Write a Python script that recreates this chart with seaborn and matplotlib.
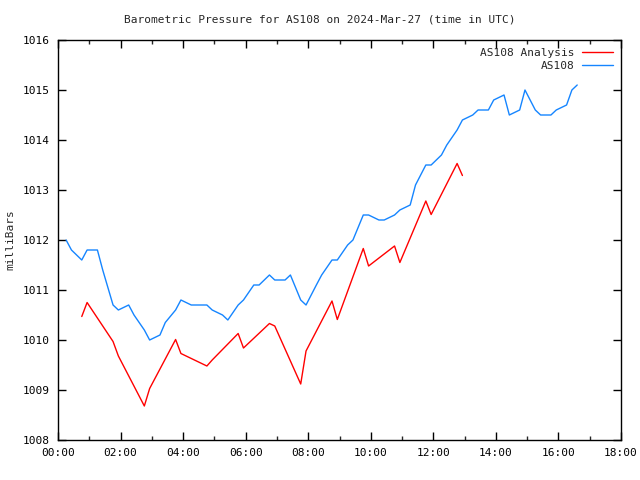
import matplotlib
matplotlib.use("Agg")
import matplotlib.pyplot as plt
from matplotlib.ticker import MultipleLocator, FuncFormatter
import seaborn as sns
import pandas as pd

# Observed station pressure (AS108), time in hours UTC
obs_hours = [0.26, 0.43, 0.76, 0.93, 1.26, 1.43, 1.76, 1.93, 2.26, 2.43, 2.76, 2.93,
             3.26, 3.43, 3.76, 3.93, 4.26, 4.43, 4.76, 4.93, 5.26, 5.43, 5.76, 5.93,
             6.26, 6.43, 6.76, 6.93, 7.26, 7.43, 7.76, 7.93, 8.26, 8.43, 8.76, 8.93,
             9.26, 9.43, 9.76, 9.93, 10.26, 10.43, 10.76, 10.93, 11.26, 11.43, 11.76, 11.93,
             12.26, 12.43, 12.76, 12.93, 13.26, 13.43, 13.76, 13.93, 14.26, 14.43, 14.76, 14.93,
             15.26, 15.43, 15.76, 15.93, 16.26, 16.43, 16.6]
obs_mb = [1012.0, 1011.8, 1011.6, 1011.8, 1011.8, 1011.4, 1010.7, 1010.6, 1010.7, 1010.5, 1010.2, 1010.0,
          1010.1, 1010.35, 1010.6, 1010.8, 1010.7, 1010.7, 1010.7, 1010.6, 1010.5, 1010.4, 1010.7, 1010.8,
          1011.1, 1011.1, 1011.3, 1011.2, 1011.2, 1011.3, 1010.8, 1010.7, 1011.1, 1011.3, 1011.6, 1011.6,
          1011.9, 1012.0, 1012.5, 1012.5, 1012.4, 1012.4, 1012.5, 1012.6, 1012.7, 1013.1, 1013.5, 1013.5,
          1013.7, 1013.9, 1014.2, 1014.4, 1014.5, 1014.6, 1014.6, 1014.8, 1014.9, 1014.5, 1014.6, 1015.0,
          1014.6, 1014.5, 1014.5, 1014.6, 1014.7, 1015.0, 1015.1]

# Analysis pressure (AS108 Analysis)
ana_hours = [0.76, 0.93, 1.76, 1.93, 2.76, 2.93, 3.76, 3.93, 4.76, 4.93, 5.76, 5.93, 6.76, 6.93,
             7.76, 7.93, 8.76, 8.93, 9.76, 9.93, 10.76, 10.93, 11.76, 11.93, 12.76, 12.93]
ana_mb = [1010.47, 1010.75, 1009.97, 1009.68, 1008.68, 1009.03, 1010.01, 1009.73, 1009.48, 1009.6,
          1010.13, 1009.84, 1010.33, 1010.28, 1009.12, 1009.78, 1010.78, 1010.41, 1011.83, 1011.48,
          1011.88, 1011.55, 1012.78, 1012.51, 1013.53, 1013.29]

series_names = ["AS108 Analysis", "AS108"]
series_colors = ["#ff0000", "#1585ff"]
title = "Barometric Pressure for AS108 on 2024-Mar-27 (time in UTC)"
ylabel = "milliBars"

sns.set_style("white")
plt.rcParams["font.family"] = ["DejaVu Sans Mono"]
plt.rcParams["font.size"] = 8

df = pd.concat([
    pd.DataFrame({"hour": ana_hours, "mb": ana_mb, "series": series_names[0]}),
    pd.DataFrame({"hour": obs_hours, "mb": obs_mb, "series": series_names[1]}),
])

fig = plt.figure(figsize=(6.4, 4.8), dpi=100)
ax = fig.add_axes([58/640, 40/480, (621-58)/640, (440-40)/480])
sns.lineplot(data=df, x="hour", y="mb", hue="series", hue_order=series_names,
             palette=dict(zip(series_names, series_colors)), linewidth=1.0,
             estimator=None, sort=False, ax=ax, legend=True)

ax.set_xlim(0, 18)
ax.set_ylim(1008, 1016)
ax.xaxis.set_major_locator(MultipleLocator(2))
ax.xaxis.set_minor_locator(MultipleLocator(1))
ax.yaxis.set_major_locator(MultipleLocator(1))
ax.xaxis.set_major_formatter(FuncFormatter(lambda v, p: f"{int(v):02d}:00"))
ax.yaxis.set_major_formatter(FuncFormatter(lambda v, p: f"{int(round(v))}"))
ax.tick_params(which="major", direction="in", length=6, width=1, top=True, right=True,
               bottom=True, left=True, labelsize=8, pad=6, colors="black")
ax.tick_params(which="minor", direction="in", length=3, width=1, top=True, bottom=True)
for s in ax.spines.values():
    s.set_visible(True)
    s.set_color("black")
    s.set_linewidth(1.0)

ax.set_xlabel("")
ax.set_ylabel(ylabel, fontsize=8)
ax.yaxis.set_label_coords(-43/563, 0.5)
fig.text(0.5, 1 - 20/480, title, ha="center", va="center", fontsize=8)

leg = ax.legend(loc="upper right", frameon=False, markerfirst=False, fontsize=8,
                handlelength=2.8, handletextpad=0.7, borderaxespad=0.3, labelspacing=0.25)

fig.savefig("out.png", dpi=100, facecolor="white")
